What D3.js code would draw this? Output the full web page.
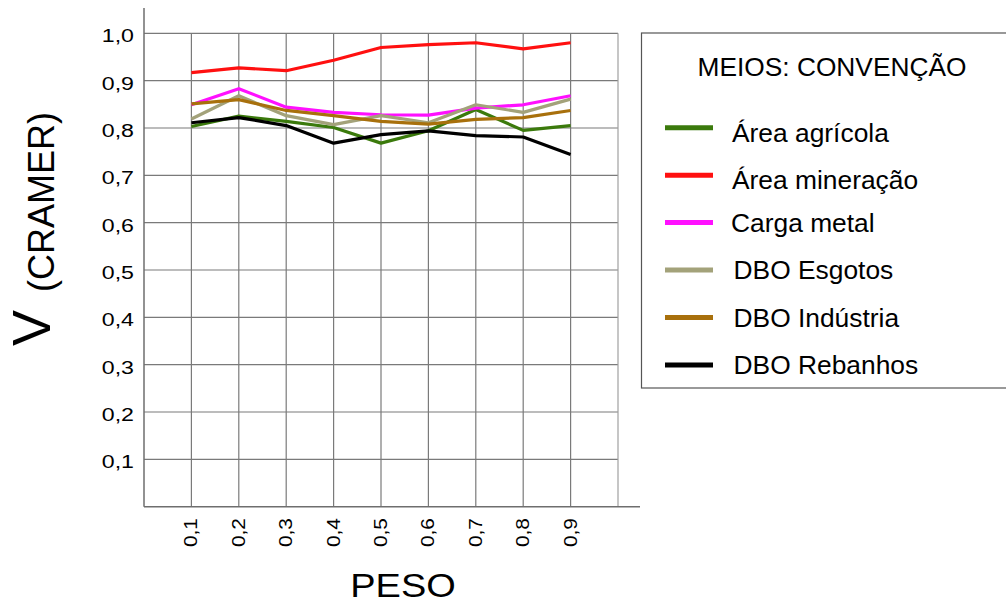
<!DOCTYPE html>
<html>
<head>
<meta charset="utf-8">
<script src="https://cdn.jsdelivr.net/npm/d3@7"></script>
<style>
  html, body { margin: 0; padding: 0; background: #fff; }
  svg { display: block; font-family: "Liberation Sans", Arial, Helvetica, sans-serif; }
</style>
</head>
<body>
<svg id="chart" width="1006" height="603"></svg>
<script>
// ---- data ----
const weights = [0.1, 0.2, 0.3, 0.4, 0.5, 0.6, 0.7, 0.8, 0.9];
const seriesNames = ["Área agrícola", "Área mineração", "Carga metal", "DBO Esgotos", "DBO Indústria", "DBO Rebanhos"];
const areaAgricola = [0.803, 0.825, 0.814, 0.801, 0.768, 0.794, 0.839, 0.795, 0.805];
const areaMineracao = [0.917, 0.927, 0.921, 0.943, 0.970, 0.976, 0.980, 0.967, 0.980];
const cargaMetal = [0.849, 0.883, 0.844, 0.833, 0.828, 0.827, 0.842, 0.849, 0.868];
const dboEsgotos = [0.819, 0.868, 0.826, 0.807, 0.826, 0.811, 0.849, 0.833, 0.861];
const dboIndustria = [0.851, 0.860, 0.837, 0.826, 0.814, 0.808, 0.818, 0.822, 0.837];
const dboRebanhos = [0.811, 0.822, 0.805, 0.768, 0.786, 0.794, 0.784, 0.781, 0.744];
const yTicks = [0.1, 0.2, 0.3, 0.4, 0.5, 0.6, 0.7, 0.8, 0.9, 1.0];
const xTicks = [0.1, 0.2, 0.3, 0.4, 0.5, 0.6, 0.7, 0.8, 0.9];
const legendTitle = "MEIOS: CONVENÇÃO";
const xTitle = "PESO";

// ---- build ----
const seriesValues = [areaAgricola, areaMineracao, cargaMetal, dboEsgotos, dboIndustria, dboRebanhos];
const colors = ["#3b7a0c", "#ff1010", "#ff10ff", "#a3a27a", "#a8700c", "#000000"];
const series = seriesNames.map((n, i) => ({ name: n, color: colors[i], values: seriesValues[i] }));

const svg = d3.select("#chart");
const x = d3.scaleLinear().domain([0, 1]).range([144, 618]);
const y = d3.scaleLinear().domain([0, 1]).range([506.7, 33.3]);
const fmt = v => d3.format(".1f")(v).replace(".", ",");

// grid
const grid = svg.append("g");
grid.selectAll("line.h").data(yTicks).join("line")
  .attr("x1", x(0)).attr("x2", x(1))
  .attr("y1", d => y(d)).attr("y2", d => y(d))
  .attr("stroke", "#7a7a7a").attr("stroke-width", 1.2);
grid.selectAll("line.v").data(xTicks.concat([1.0])).join("line")
  .attr("x1", d => x(d)).attr("x2", d => x(d))
  .attr("y1", y(1)).attr("y2", y(0))
  .attr("stroke", d => d === 1 ? "#a0a0a0" : "#7a7a7a").attr("stroke-width", 1.2);

// axes lines
svg.append("line").attr("x1", x(0)).attr("x2", x(0)).attr("y1", 8).attr("y2", y(0))
  .attr("stroke", "#6e6e6e").attr("stroke-width", 1.5);
svg.append("line").attr("x1", x(0)).attr("x2", 640).attr("y1", y(0)).attr("y2", y(0))
  .attr("stroke", "#6e6e6e").attr("stroke-width", 1.5);

// y tick labels (stretched horizontally)
const yAxis = d3.axisLeft(y).tickValues(yTicks).tickFormat(fmt).tickSize(0).tickPadding(0);
const ya = svg.append("g").attr("transform", `translate(134,0)`).call(yAxis);
ya.select(".domain").remove();
ya.selectAll("text")
  .attr("x", 0).attr("dy", null).attr("y", 0)
  .attr("transform", "translate(0,8.4) scale(1.22,1)")
  .style("font-size", "19px").style("fill", "#000")
  .attr("font-family", "Liberation Sans, Arial, sans-serif");

// x tick labels (rotated)
const xAxis = d3.axisBottom(x).tickValues(xTicks).tickFormat(fmt).tickSize(0).tickPadding(0);
const xa = svg.append("g").attr("transform", `translate(0,518)`).call(xAxis);
xa.select(".domain").remove();
xa.selectAll("text")
  .attr("x", 0).attr("y", 0).attr("dy", null)
  .attr("text-anchor", "end")
  .attr("transform", "translate(5.5,0) rotate(-90) scale(1.13,1)")
  .style("font-size", "18.5px").style("fill", "#000")
  .attr("font-family", "Liberation Sans, Arial, sans-serif");

// lines
const line = d3.line().x((d, i) => x(weights[i])).y(d => y(d));
svg.append("g").selectAll("path").data(series).join("path")
  .attr("d", d => line(d.values))
  .attr("fill", "none")
  .attr("stroke", d => d.color)
  .attr("stroke-width", 3.2)
  .attr("stroke-linejoin", "round");

// axis titles
svg.append("text")
  .attr("transform", "translate(403,597) scale(1.15,1)")
  .attr("text-anchor", "middle")
  .style("font-size", "33px").text(xTitle);

svg.append("text")
  .attr("transform", "translate(50,346) rotate(-90)")
  .attr("text-anchor", "start")
  .style("font-size", "54px").text("V");
svg.append("text")
  .attr("transform", "translate(54,292) rotate(-90)")
  .attr("text-anchor", "start")
  .style("font-size", "36px").text("(CRAMER)");

// legend
const lg = svg.append("g");
lg.append("rect").attr("x", 641.5).attr("y", 33).attr("width", 380).attr("height", 355)
  .attr("fill", "#fff").attr("stroke", "#555").attr("stroke-width", 1.2);
lg.append("text").attr("x", 832).attr("y", 76).attr("text-anchor", "middle")
  .style("font-size", "26.3px").text(legendTitle);
const items = lg.selectAll("g.item").data(series).join("g")
  .attr("transform", (d, i) => `translate(0,${127.7 + i * 47.45})`);
items.append("line").attr("x1", 665).attr("x2", 713).attr("y1", 0).attr("y2", 0)
  .attr("stroke", d => d.color).attr("stroke-width", 5);
items.append("text")
  .attr("transform", (d, i) => `translate(${i === 2 ? 731 : (i > 2 ? 733.5 : 732)},${i < 2 ? 14 : 9}) scale(1.055,1)`)
  .style("font-size", "25px").text(d => d.name);
</script>
</body>
</html>
